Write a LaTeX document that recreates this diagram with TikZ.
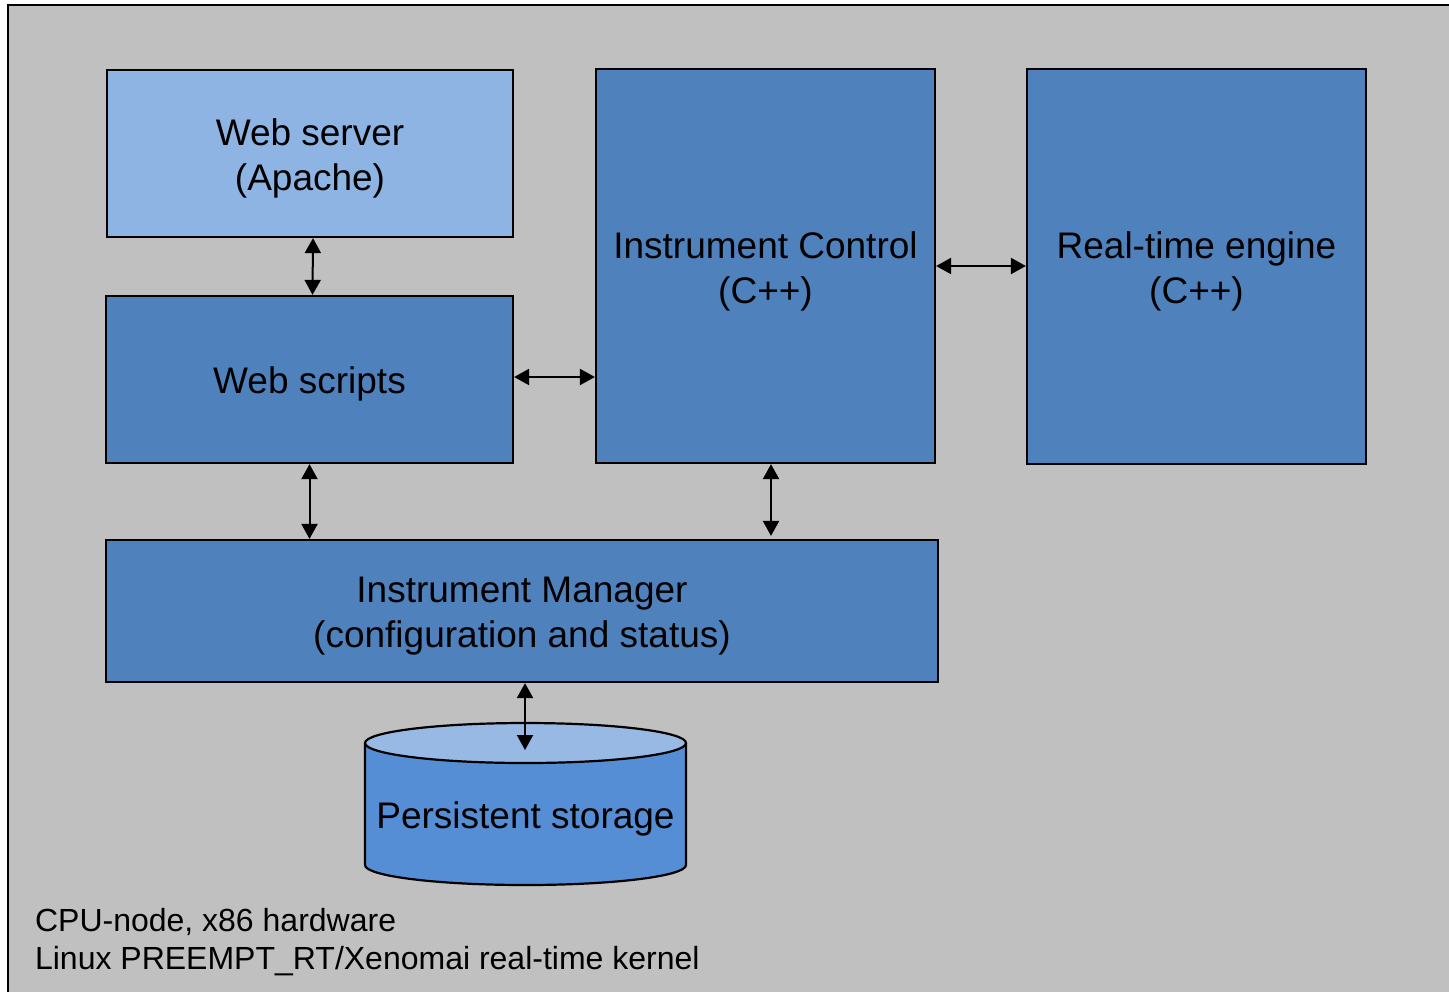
\documentclass[tikz,border=0pt]{standalone}
\usepackage{fontspec}
\setmainfont{Liberation Sans}
\usepackage{tikz}
\usetikzlibrary{arrows.meta}
\definecolor{paneGray}{RGB}{192,192,192}
\definecolor{boxBlue}{RGB}{79,129,189}
\definecolor{boxLight}{RGB}{141,180,226}
\definecolor{drumSide}{RGB}{85,142,213}
\definecolor{drumTop}{RGB}{151,185,228}

\begin{document}
\begin{tikzpicture}[x=0.5pt,y=-0.5pt,
    box/.style={draw=black,line width=1.1pt,fill=boxBlue,inner sep=0pt},
    boxtext/.style={align=center,font=\fontsize{18.5}{22.5}\selectfont,
                    inner sep=0pt,yshift=-2.5pt},
    conn/.style={{Triangle[length=7.5pt,width=8pt]}-{Triangle[length=7.5pt,width=8pt]},
                 line width=1pt}]
  \useasboundingbox (0,0) rectangle (1449,991);
  \clip (0,0) rectangle (1449,991);
  % the grey CPU node, its right and bottom edges run off the page
  \draw[fill=paneGray,line width=1.2pt] (8,5) rectangle (1470,1010);

  % boxes; the text sits a little below the middle
  \node[box,fill=boxLight,minimum width=203pt,minimum height=83.5pt,
        label={[boxtext]center:{Web server\\(Apache)}}]
        (webserver) at (310,153.5) {};
  \node[box,minimum width=203.5pt,minimum height=83.5pt,
        label={[boxtext,yshift=0.5pt]center:{Web scripts}}]
        (webscripts) at (309.5,379.5) {};
  \node[box,minimum width=169.5pt,minimum height=197pt,
        label={[boxtext]center:{Instrument Control\\(C++)}}]
        (instctrl) at (765.5,266) {};
  \node[box,minimum width=169.5pt,minimum height=197.5pt,
        label={[boxtext]center:{Real-time engine\\(C++)}}]
        (rtengine) at (1196.5,266.5) {};
  \node[box,minimum width=416pt,minimum height=71pt,
        label={[boxtext]center:{Instrument Manager\\(configuration and status)}}]
        (instmgr) at (522,611) {};

  % storage drum, drawn by hand
  \filldraw[fill=drumSide,line width=1.1pt]
        (365,743) -- (365,865) arc[start angle=180,end angle=360,
        x radius=160.5,y radius=-20] -- (686,743);
  \filldraw[fill=drumTop,line width=1.1pt] (525.5,743) ellipse[x radius=160.5,y radius=20];
  \node[font=\fontsize{18.5}{22.5}\selectfont] (storage) at (525.5,819) {Persistent storage};
  \coordinate (storagetop) at (525,750);

  \node[anchor=west,align=left,font=\fontsize{16}{19}\selectfont]
        (cpunode) at (28,942) {CPU-node, x86 hardware\\Linux PREEMPT\_RT/Xenomai real-time kernel};

  \draw[conn] ([xshift=1.5pt]webserver.south) -- ([xshift=1.5pt]webscripts.north);
  \draw[conn] ([yshift=1.25pt]webscripts.east) -- ([yshift=1.25pt]webscripts.east -| instctrl.west);
  \draw[conn] (instctrl.east) -- (instctrl.east -| rtengine.west);
  \draw[conn] (webscripts.south) -- (webscripts.south |- instmgr.north);
  \draw[conn] ([xshift=2.75pt]instctrl.south) -- ([xshift=2.75pt,yshift=1.5pt]instctrl.south |- instmgr.north);
  \draw[conn] (instmgr.south -| storagetop) -- (storagetop);
\end{tikzpicture}
\end{document}
